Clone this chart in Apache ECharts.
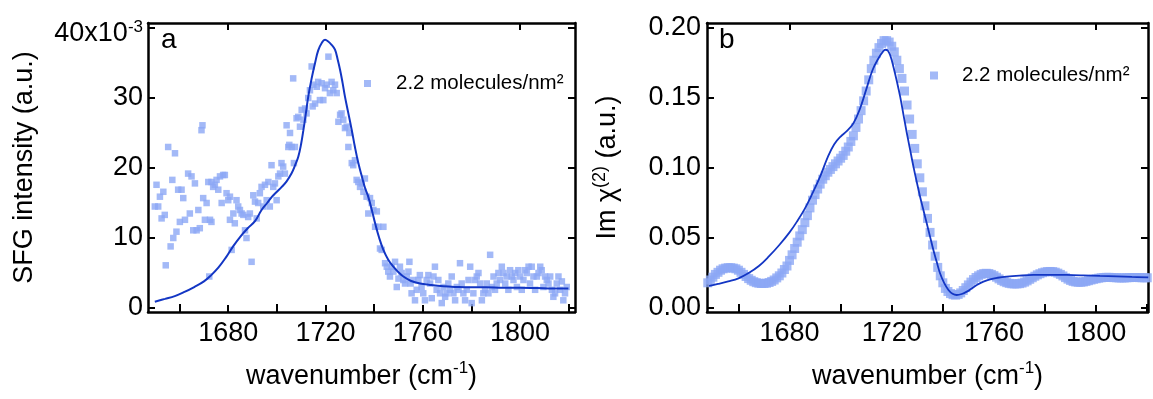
<!DOCTYPE html>
<html>
<head>
<meta charset="utf-8">
<script src="https://cdn.jsdelivr.net/npm/echarts@6/dist/echarts.min.js"></script>
<style>
  html, body { margin: 0; padding: 0; background: #fff; }
  #chart { width: 1153px; height: 399px; }
</style>
</head>
<body>
<div id="chart"></div>
<script>
// ---- panel a: SFG intensity (values in units of 10^-3) ----
const leftWavenumber = [
  1649.8,1650.5,1651.2,1651.9,1652.6,1653.3,1653.9,1654.3,1655.3,1656.3,
  1657.0,1657.4,1658.1,1658.7,1659.4,1660.1,1660.8,1661.5,1662.2,1663.5,
  1664.2,1664.9,1665.6,1666.3,1667.0,1667.7,1668.3,1669.0,1669.4,1669.7,
  1670.4,1671.1,1671.8,1672.2,1672.5,1673.1,1673.1,1673.8,1674.5,1675.2,
  1675.9,1676.6,1677.3,1677.9,1678.6,1679.3,1680.0,1680.7,1680.7,1681.4,
  1682.1,1682.7,1683.4,1684.1,1684.8,1685.5,1686.2,1686.9,1687.5,1688.2,
  1688.9,1689.6,1690.3,1691.0,1691.7,1692.3,1693.0,1693.7,1694.4,1695.1,
  1695.8,1696.5,1697.1,1697.8,1698.5,1699.2,1699.9,1700.6,1701.3,1701.9,
  1702.6,1703.3,1704.0,1704.7,1705.1,1705.4,1706.1,1706.7,1707.0,1707.4,
  1708.1,1708.8,1709.5,1710.2,1710.9,1711.6,1712.2,1712.9,1713.6,1714.3,
  1714.7,1715.0,1715.7,1716.4,1717.0,1717.7,1718.4,1719.1,1719.8,1720.5,
  1721.2,1721.8,1722.5,1723.2,1723.9,1724.6,1725.3,1726.0,1726.6,1727.3,
  1728.0,1728.7,1729.4,1729.8,1730.8,1731.4,1732.1,1732.8,1733.5,1734.2,
  1734.9,1735.6,1736.2,1736.9,1737.6,1738.3,1739.0,1739.7,1740.4,1741.1,
  1741.7,1742.4,1743.1,1743.8,1744.5,1745.2,1745.8,1746.5,1747.2,1747.9,
  1748.6,1749.3,1750.0,1750.6,1751.3,1752.0,1752.7,1753.4,1754.1,1754.5,
  1755.0,1755.4,1756.1,1756.8,1757.5,1758.2,1758.8,1759.5,1760.2,1760.9,
  1761.6,1762.3,1763.0,1763.7,1764.4,1765.0,1765.7,1766.4,1767.1,1767.8,
  1768.5,1769.2,1769.8,1770.5,1771.2,1771.9,1772.6,1773.3,1774.0,1774.7,
  1775.3,1776.0,1776.7,1777.4,1778.1,1778.8,1779.5,1780.1,1780.8,1781.5,
  1782.2,1782.9,1783.6,1784.3,1784.9,1785.6,1786.3,1787.0,1787.7,1788.4,
  1789.1,1789.7,1790.4,1791.1,1791.8,1792.5,1793.2,1793.9,1794.5,1795.2,
  1795.9,1796.6,1797.3,1798.0,1798.7,1799.3,1800.0,1800.7,1801.4,1802.1,
  1802.8,1803.5,1804.1,1804.8,1805.5,1806.2,1806.9,1807.6,1808.3,1808.9,
  1809.6,1810.3,1811.0,1811.7,1812.4,1813.1,1813.7,1814.4,1815.1,1815.8,
  1816.5,1817.2,1817.8,1818.5,1819.2
];
const leftSignal = [
  14.5,17.6,14.5,15.9,12.8,16.6,13.3,6.1,23.0,8.8,
  18.3,10.0,22.1,10.9,16.9,12.3,16.9,15.7,12.6,19.2,
  13.5,18.8,11.1,17.8,11.1,14.0,11.4,25.4,26.1,15.7,
  12.6,15.0,18.0,4.5,12.6,12.3,18.0,17.3,17.6,18.3,
  16.9,18.8,15.0,19.0,19.0,16.4,15.4,15.9,12.6,8.3,
  13.5,12.1,15.4,14.5,14.0,13.5,13.3,11.1,10.0,13.0,
  13.5,6.6,16.1,15.2,12.8,15.0,16.4,17.3,14.5,17.6,
  15.4,18.0,14.5,20.4,17.3,17.8,15.4,18.8,19.2,20.7,
  20.2,19.2,26.1,23.0,23.3,25.0,23.0,32.8,20.7,23.0,
  27.1,27.3,25.9,28.3,26.9,28.5,27.8,30.0,31.1,34.5,
  28.8,31.9,29.2,31.6,32.3,29.7,32.1,29.7,31.4,31.9,
  35.9,30.7,32.3,31.1,31.9,30.7,26.6,27.6,27.8,26.9,
  25.7,25.9,23.0,25.0,20.7,20.4,21.1,18.3,18.0,17.3,
  17.8,16.6,18.5,15.9,13.5,15.7,15.0,14.0,11.6,13.8,
  11.6,8.5,8.3,11.6,6.4,5.9,5.2,4.5,5.9,5.2,
  6.6,3.0,4.2,5.9,5.0,4.0,3.5,4.5,5.2,6.6,
  3.5,2.1,4.0,1.1,2.6,4.0,4.7,3.0,2.1,1.1,
  4.0,4.7,3.5,1.4,4.5,5.9,2.6,4.0,2.1,0.7,
  3.0,1.6,2.1,3.5,2.6,4.5,2.1,1.1,3.0,2.6,
  6.4,3.5,2.1,1.1,2.6,4.0,5.9,0.7,2.1,4.0,
  4.5,5.0,3.5,1.1,2.1,2.6,3.5,2.1,7.6,3.0,
  4.5,2.6,3.5,5.0,4.0,5.9,5.0,3.5,4.5,2.6,
  5.4,4.5,4.0,5.0,3.0,5.4,4.5,2.6,4.0,5.4,
  5.0,5.9,3.5,5.9,4.5,2.6,4.5,5.0,5.9,5.4,
  3.0,4.5,4.0,3.5,4.5,2.6,1.6,2.1,3.5,4.5,
  2.6,3.8,1.1,2.1,3.0
];
// fitted SFG intensity
const leftFitWavenumber = [
  1649.8,1654,1658,1662,1666,1670,1673,1676,1679,1682,
  1685,1688,1691,1693.7,1696,1698,1700,1702,1704,1706,
  1707.5,1708.8,1710,1710.9,1712,1712.9,1714.3,1715.7,1717,1718.5,
  1719.8,1721,1722.5,1723.9,1725,1726,1727,1728,1729.4,1730.8,
  1732.1,1733.5,1735,1736.3,1737.3,1738.3,1739.4,1740.4,1742,1743.8,
  1745.8,1747.9,1750,1752,1755,1758.9,1763,1768.5,1774,1779.5,
  1786,1793,1800,1807,1814,1819.9
];
const leftFitSignal = [
  0.9,1.3,1.7,2.3,3.0,3.8,4.7,5.8,7.2,8.8,
  10.2,11.4,12.4,14.0,15.0,15.9,16.6,17.3,18.1,19.2,
  20.4,21.6,23.5,25.4,28.0,30.2,32.8,35.0,36.8,37.9,
  38.3,38.1,37.6,36.9,35.5,34.0,32.2,30.2,27.8,25.4,
  23.0,20.7,18.7,17.1,16.2,15.0,13.5,12.1,10.1,8.3,
  6.9,5.9,5.1,4.5,3.9,3.5,3.3,3.1,3.0,2.95,
  2.95,2.9,2.9,2.85,2.8,2.8
];

// ---- panel b: Im chi(2) ----
const rightWavenumber = [
  1648,1649,1650,1651,1652,1653,1654,1655,1656,1657,
  1658,1659,1660,1661,1662,1663,1664,1665,1666,1667,
  1668,1669,1670,1671,1672,1673,1674,1675,1676,1677,
  1678,1679,1680,1681,1682,1683,1684,1685,1686,1687,
  1688,1689,1690,1691,1692,1693,1694,1695,1696,1697,
  1698,1699,1700,1701,1702,1703,1704,1705,1706,1707,
  1708,1709,1710,1711,1712,1713,1714,1715,1716,1717,
  1718,1719,1720,1721,1722,1723,1724,1725,1726,1727,
  1728,1729,1730,1731,1732,1733,1734,1735,1736,1737,
  1738,1739,1740,1741,1742,1743,1744,1745,1746,1747,
  1748,1749,1750,1751,1752,1753,1754,1755,1756,1757,
  1758,1759,1760,1761,1762,1763,1764,1765,1766,1767,
  1768,1769,1770,1771,1772,1773,1774,1775,1776,1777,
  1778,1779,1780,1781,1782,1783,1784,1785,1786,1787,
  1788,1789,1790,1791,1792,1793,1794,1795,1796,1797,
  1798,1799,1800,1801,1802,1803,1804,1805,1806,1807,
  1808,1809,1810,1811,1812,1813,1814,1815,1816,1817,
  1818,1819,1820
];
const rightImChi = [
  0.018,0.020,0.022,0.024,0.0255,0.027,0.028,0.0285,0.0288,0.0288,
  0.0285,0.028,0.027,0.0255,0.024,0.0225,0.021,0.0198,0.0188,0.0181,
  0.0177,0.0175,0.0175,0.0177,0.0182,0.019,0.020,0.0215,0.023,0.025,
  0.0275,0.030,0.034,0.038,0.0425,0.047,0.0515,0.056,0.061,0.066,
  0.0715,0.077,0.081,0.085,0.0885,0.092,0.0945,0.097,0.099,0.101,
  0.103,0.105,0.107,0.109,0.112,0.115,0.119,0.123,0.129,0.135,
  0.141,0.148,0.155,0.163,0.171,0.177,0.182,0.186,0.189,0.191,
  0.191,0.190,0.187,0.183,0.177,0.171,0.164,0.155,0.145,0.135,
  0.124,0.114,0.103,0.093,0.083,0.073,0.064,0.054,0.045,0.037,
  0.029,0.023,0.018,0.014,0.0118,0.0103,0.0095,0.0092,0.0097,0.0108,
  0.0125,0.0145,0.0165,0.0185,0.0203,0.0218,0.0230,0.0240,0.0246,0.0248,
  0.0246,0.0240,0.0231,0.0220,0.0208,0.0197,0.0188,0.0181,0.0176,0.0173,
  0.0172,0.0172,0.0174,0.0178,0.0185,0.0194,0.0205,0.0216,0.0227,0.0237,
  0.0245,0.0252,0.0257,0.0260,0.0261,0.0260,0.0256,0.0249,0.0240,0.0229,
  0.0217,0.0206,0.0197,0.0190,0.0186,0.0184,0.0184,0.0186,0.0190,0.0195,
  0.0200,0.0205,0.0209,0.0213,0.0216,0.0218,0.0219,0.0219,0.0218,0.0217,
  0.0216,0.0215,0.0215,0.0215,0.0216,0.0217,0.0218,0.0218,0.0218,0.0217,
  0.0216,0.0216,0.0216
];
// fitted Im chi(2)
const rightFitWavenumber = [
  1648.5,1652,1656,1660,1664,1668,1672,1676,1680,1683,
  1686,1689,1692,1695,1697.5,1700,1702.5,1705,1707.5,1710,
  1712.5,1715,1716.5,1717.5,1718.5,1719.5,1720.7,1722,1723.3,1724.6,
  1725.9,1727.2,1728.5,1729.8,1731.1,1732.4,1733.7,1735,1736.3,1737.6,
  1738.9,1740.5,1742.2,1743.8,1745.4,1747.4,1749.4,1751.3,1753.3,1755.9,
  1758.5,1761.5,1765,1770,1775.4,1782,1788.5,1795,1801.5,1808,
  1814,1820.4
];
const rightFitImChi = [
  0.0158,0.0172,0.0190,0.0212,0.0250,0.0300,0.0370,0.0450,0.0540,0.0620,
  0.0710,0.0820,0.0940,0.1080,0.1170,0.1225,0.1265,0.1320,0.1420,0.1560,
  0.1700,0.1790,0.1830,0.1845,0.1838,0.1800,0.1720,0.1620,0.1510,0.1380,
  0.1250,0.1130,0.1010,0.0900,0.0795,0.0700,0.0605,0.0510,0.0414,0.0330,
  0.0248,0.0180,0.0129,0.0102,0.0093,0.0100,0.0117,0.0140,0.0164,0.0188,
  0.0205,0.0216,0.0224,0.0231,0.0236,0.0237,0.0236,0.0233,0.0229,0.0226,
  0.0222,0.0219
];

// ---- axis ticks and labels ----
const xMajorTicks = [1680, 1720, 1760, 1800];
const xMinorTicks = [1660, 1700, 1740, 1780, 1820];
const leftYTicks = [0, 10, 20, 30, 40];
const rightYTicks = [0, 0.05, 0.10, 0.15, 0.20];
const seriesName = '2.2 molecules/nm\u00b2';

const FONT = '"Liberation Sans", Arial, Helvetica, sans-serif';
const MARKER = '#8ca8f5';
const FIT = '#1336c4';
const INK = '#000';
const TICK_FONT = 27;

const pair = (xs, ys) => xs.map((x, i) => [x, ys[i]]);

const supRich = {
  sup: { fontSize: 17, lineHeight: 17, verticalAlign: 'top', fontFamily: FONT, color: INK }
};

// four x axes per panel: bottom/top frame, each with long major and short minor ticks
function xAxesFor(gridIndex, min, max) {
  const base = { type: 'value', gridIndex, min, max, splitLine: { show: false } };
  const line = { onZero: false, lineStyle: { color: INK, width: 2.5 } };
  const tick = (values, length) => ({ inside: true, length, customValues: values, lineStyle: { color: INK, width: 2 } });
  return [
    Object.assign({}, base, {
      position: 'bottom', axisLine: line, axisTick: tick(xMajorTicks, 7),
      axisLabel: { customValues: xMajorTicks, formatter: v => String(v), fontSize: TICK_FONT, color: INK, margin: 8, fontFamily: FONT },
      name: 'wavenumber (cm{sup|-1})', nameLocation: 'middle', nameGap: 48,
      nameTextStyle: { fontSize: 27, color: INK, fontFamily: FONT, lineHeight: 34, rich: supRich }
    }),
    Object.assign({}, base, { position: 'bottom', axisLine: { show: false }, axisTick: tick(xMinorTicks, 4), axisLabel: { show: false } }),
    Object.assign({}, base, { position: 'top', axisLine: line, axisTick: tick(xMajorTicks, 7), axisLabel: { show: false } }),
    Object.assign({}, base, { position: 'top', axisLine: { show: false }, axisTick: tick(xMinorTicks, 4), axisLabel: { show: false } })
  ];
}

function yAxesFor(gridIndex, min, max, ticks, labelOpts, nameOpts) {
  const base = { type: 'value', gridIndex, min, max, splitLine: { show: false } };
  const line = { onZero: false, lineStyle: { color: INK, width: 2.5 } };
  const tick = { inside: true, length: 7, customValues: ticks, lineStyle: { color: INK, width: 2 } };
  return [
    Object.assign({}, base, nameOpts, {
      position: 'left', axisLine: line, axisTick: tick,
      axisLabel: Object.assign({ customValues: ticks, fontSize: TICK_FONT, color: INK, fontFamily: FONT }, labelOpts)
    }),
    Object.assign({}, base, { position: 'right', axisLine: line, axisTick: tick, axisLabel: { show: false } })
  ];
}

const chart = echarts.init(document.getElementById('chart'), null, { renderer: 'canvas' });

const option = {
  animation: false,
  backgroundColor: '#fff',
  textStyle: { fontFamily: FONT },
  title: [
    { text: 'a', left: 161, top: 26, padding: 0, textStyle: { fontSize: 28, fontWeight: 'normal', color: INK, fontFamily: FONT } },
    { text: 'b', left: 719, top: 26, padding: 0, textStyle: { fontSize: 28, fontWeight: 'normal', color: INK, fontFamily: FONT } }
  ],
  legend: [
    {
      data: [seriesName], left: 364, top: 73, padding: 0, itemWidth: 7, itemHeight: 7, icon: 'rect',
      selectedMode: false, textStyle: { fontSize: 20.5, color: INK, fontFamily: FONT, padding: [0, 0, 0, 20] }
    },
    {
      data: [seriesName], left: 930, top: 65, padding: 0, itemWidth: 8, itemHeight: 8, icon: 'rect',
      selectedMode: false, textStyle: { fontSize: 20.5, color: INK, fontFamily: FONT, padding: [0, 0, 0, 19] }
    }
  ],
  grid: [
    { left: 148, top: 23, width: 427, height: 289 },
    { left: 707, top: 23, width: 441, height: 289 }
  ],
  xAxis: [].concat(
    xAxesFor(0, 1647, 1822.6),
    xAxesFor(1, 1647.7, 1820.3)
  ),
  yAxis: [].concat(
    yAxesFor(0, -0.57, 40.71, leftYTicks, {
      margin: 5,
      formatter: v => v === 40 ? '{b|40x10}{e|-3}' : String(v),
      rich: {
        b: { fontSize: TICK_FONT, lineHeight: 26, padding: [12, 0, 0, 0], color: INK, fontFamily: FONT },
        e: { fontSize: 17, lineHeight: 17, padding: [4, 0, 0, 0], verticalAlign: 'top', color: INK, fontFamily: FONT }
      }
    }, {
      name: 'SFG intensity (a.u.)', nameLocation: 'middle', nameGap: 110,
      nameTextStyle: { fontSize: 27, color: INK, fontFamily: FONT }
    }),
    yAxesFor(1, -0.00286, 0.2036, rightYTicks, {
      margin: 6,
      formatter: v => v.toFixed(2)
    }, {
      name: 'Im \u03c7{sup|(2)} (a.u.)', nameLocation: 'middle', nameGap: 82,
      nameTextStyle: { fontSize: 27, color: INK, fontFamily: FONT, lineHeight: 34, rich: {
        sup: { fontSize: 18, lineHeight: 18, verticalAlign: 'top', color: INK, fontFamily: FONT }
      } }
    })
  ),
  series: [
    {
      name: seriesName, type: 'scatter', xAxisIndex: 0, yAxisIndex: 0,
      symbol: 'rect', symbolSize: 6.5, itemStyle: { color: MARKER },
      data: pair(leftWavenumber, leftSignal)
    },
    {
      type: 'line', xAxisIndex: 0, yAxisIndex: 0, smooth: 0.4, showSymbol: false, symbol: 'none',
      lineStyle: { color: FIT, width: 2 },
      data: pair(leftFitWavenumber, leftFitSignal)
    },
    {
      name: seriesName, type: 'scatter', xAxisIndex: 4, yAxisIndex: 2,
      symbol: 'rect', symbolSize: 9, itemStyle: { color: MARKER },
      data: pair(rightWavenumber, rightImChi)
    },
    {
      type: 'line', xAxisIndex: 4, yAxisIndex: 2, smooth: 0.4, showSymbol: false, symbol: 'none',
      lineStyle: { color: FIT, width: 1.8 },
      data: pair(rightFitWavenumber, rightFitImChi)
    }
  ]
};

chart.setOption(option);
</script>
</body>
</html>
